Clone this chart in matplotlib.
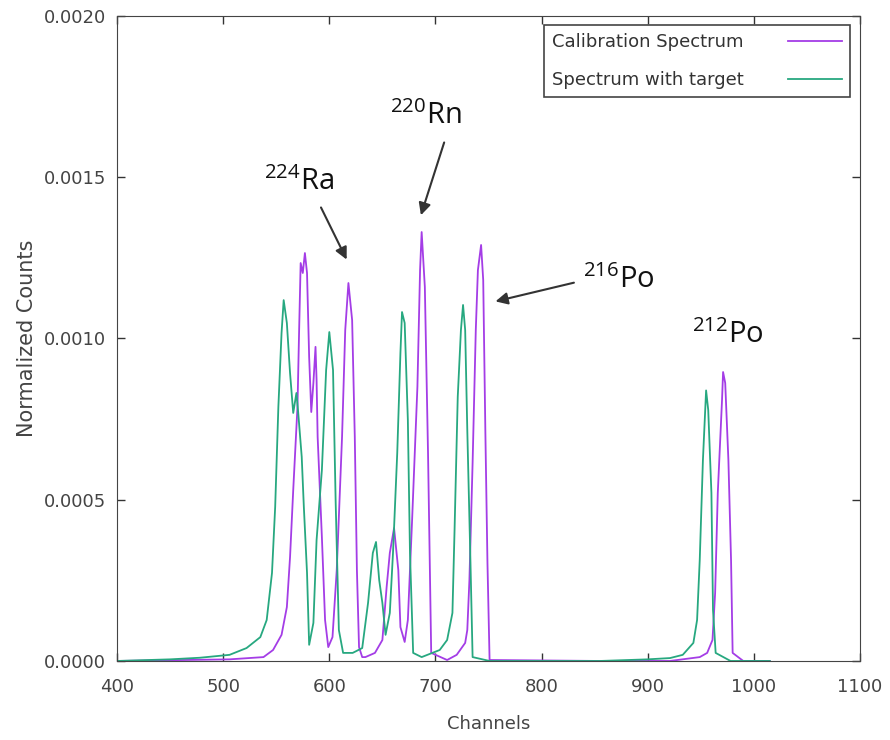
import numpy as np
import matplotlib.pyplot as plt

# Calibration spectrum (purple)
cal_ch = [400, 506, 538, 547, 555, 560, 563, 566, 570, 571.5, 573, 575, 577, 579, 581, 583,
          585, 587, 588, 589, 593, 596, 599, 603, 607, 612, 615, 618, 621.5, 624, 626, 628,
          631, 634, 643, 650, 654, 657, 661, 665, 667, 671, 674, 678, 683, 685.5, 687, 690,
          693, 696, 711, 720, 728, 730, 732, 735, 738, 740, 743, 745, 747, 749, 751, 855,
          921, 949, 956, 961, 963.5, 966, 970, 971, 973, 976, 978.5, 980, 990, 1015]
cal_counts = [0, 0.000005, 0.000012, 0.000034, 0.000081, 0.000167, 0.000322, 0.00053,
              0.000788, 0.001017, 0.001234, 0.001203, 0.001265, 0.001203, 0.000943, 0.000772,
              0.000862, 0.000974, 0.000871, 0.000695, 0.000384, 0.000127, 0.000043, 0.000074,
              0.000282, 0.000695, 0.001026, 0.001172, 0.001057, 0.000695, 0.000282, 0.000043,
              0.000012, 0.000012, 0.000025, 0.000065, 0.000229, 0.000335, 0.000412, 0.000282,
              0.000105, 0.000059, 0.000127, 0.000437, 0.00085, 0.001212, 0.00133, 0.00116,
              0.000645, 0.000025, 0.000003, 0.000019, 0.000056, 0.000096, 0.000251, 0.000614,
              0.001026, 0.001212, 0.00129, 0.001181, 0.000716, 0.000304, 0.000003, 0,
              0, 0.000012, 0.000025, 0.000065, 0.000211, 0.000521, 0.000809, 0.000896,
              0.000862, 0.000623, 0.000313, 0.000025, 0, 0]

# Spectrum with target (green)
tgt_ch = [400, 450, 478, 506, 522, 535, 541, 546, 549, 552, 555, 557, 560, 563, 566, 569,
          570.5, 574, 576, 579, 581, 585, 588, 593, 597, 600, 603.5, 606, 609, 613, 622, 631,
          636.5, 641, 644, 647, 650, 653, 657, 660, 664, 667, 668.5, 671, 674, 676, 679, 687,
          704, 711, 716, 718, 721, 724, 726, 728, 730, 733, 735, 751, 855, 900, 921, 933,
          943, 946.5, 949, 952, 955, 957, 960, 961.5, 964, 978, 1015]
tgt_counts = [0, 0.000005, 0.00001, 0.000019, 0.00004, 0.000074, 0.000127, 0.000273,
              0.000478, 0.000788, 0.001017, 0.001119, 0.001048, 0.000893, 0.000769, 0.000831,
              0.000778, 0.000633, 0.000478, 0.000273, 0.00005, 0.000118, 0.000375, 0.000592,
              0.000902, 0.00102, 0.000902, 0.00049, 0.000096, 0.000025, 0.000025, 0.00004,
              0.00018, 0.000335, 0.000369, 0.000251, 0.00018, 0.000081, 0.000149, 0.000335,
              0.000645, 0.000955, 0.001082, 0.001048, 0.000747, 0.000335, 0.000025, 0.000012,
              0.000034, 0.000065, 0.000149, 0.000406, 0.000819, 0.001026, 0.001104, 0.001026,
              0.000716, 0.000304, 0.000012, 0, 0, 0.000005, 0.000009, 0.000019,
              0.000056, 0.000127, 0.000313, 0.000623, 0.000839, 0.000778, 0.000521, 0.000158,
              0.000025, 0, 0]

# peak labels: text, text position, arrow start, arrow tip
labels = ['$^{224}$Ra', '$^{220}$Rn', '$^{216}$Po', '$^{212}$Po']
label_xy = [(571.5, 0.001485), (691, 0.00169), (873, 0.00118), (975, 0.00101)]
arrow_from = [(591, 0.001414), (709, 0.001616), (833, 0.001175), None]
arrow_to = [(617.5, 0.001237), (685.5, 0.001374), (754, 0.001113), None]

plt.rcParams['mathtext.default'] = 'regular'

fig = plt.figure(figsize=(8.9, 7.4), dpi=100)
ax = fig.add_axes([0.1315, 0.1068, 0.8348, 0.8716])

ax.plot(cal_ch, cal_counts, color='#a43de6', lw=1.3, label='Calibration Spectrum')
ax.plot(tgt_ch, tgt_counts, color='#27a880', lw=1.3, label='Spectrum with target')

ax.set_xlim(400, 1100)
ax.set_ylim(0, 0.002)
ax.set_xticks(np.arange(400, 1101, 100))
ax.set_yticks(np.arange(0, 0.00201, 0.0005))
ax.yaxis.set_major_formatter(plt.FormatStrFormatter('%.4f'))
ax.tick_params(direction='in', top=True, right=True, length=6, width=1,
               labelsize=13, labelcolor='#444444', color='#333333')
ax.tick_params(axis='x', pad=12)
ax.tick_params(axis='y', pad=8)
for s in ax.spines.values():
    s.set_color('#444444')
ax.set_xlabel('Channels', fontsize=13, color='#444444', labelpad=14)
ax.set_ylabel('Normalized Counts', fontsize=15, color='#444444', labelpad=5)

for i, lab in enumerate(labels):
    ax.text(label_xy[i][0], label_xy[i][1], lab, fontsize=21, ha='center', va='center',
            family='Open Sans', color='#111111')
    if arrow_from[i] is not None:
        ax.annotate('', xy=arrow_to[i], xytext=arrow_from[i],
                    arrowprops=dict(arrowstyle='-|>', color='#333333', lw=1.5,
                                    mutation_scale=18))

leg = ax.legend(loc='upper right', markerfirst=False, fancybox=False, fontsize=13,
                edgecolor='#444444', framealpha=1, handlelength=3.0, handletextpad=2.45,
                borderpad=0.45, labelspacing=1.1, borderaxespad=0,
                bbox_to_anchor=(0.9865, 0.986))
leg.get_frame().set_linewidth(1.2)
for t in leg.get_texts():
    t.set_color('#333333')

fig.savefig('out.png', dpi=100)
